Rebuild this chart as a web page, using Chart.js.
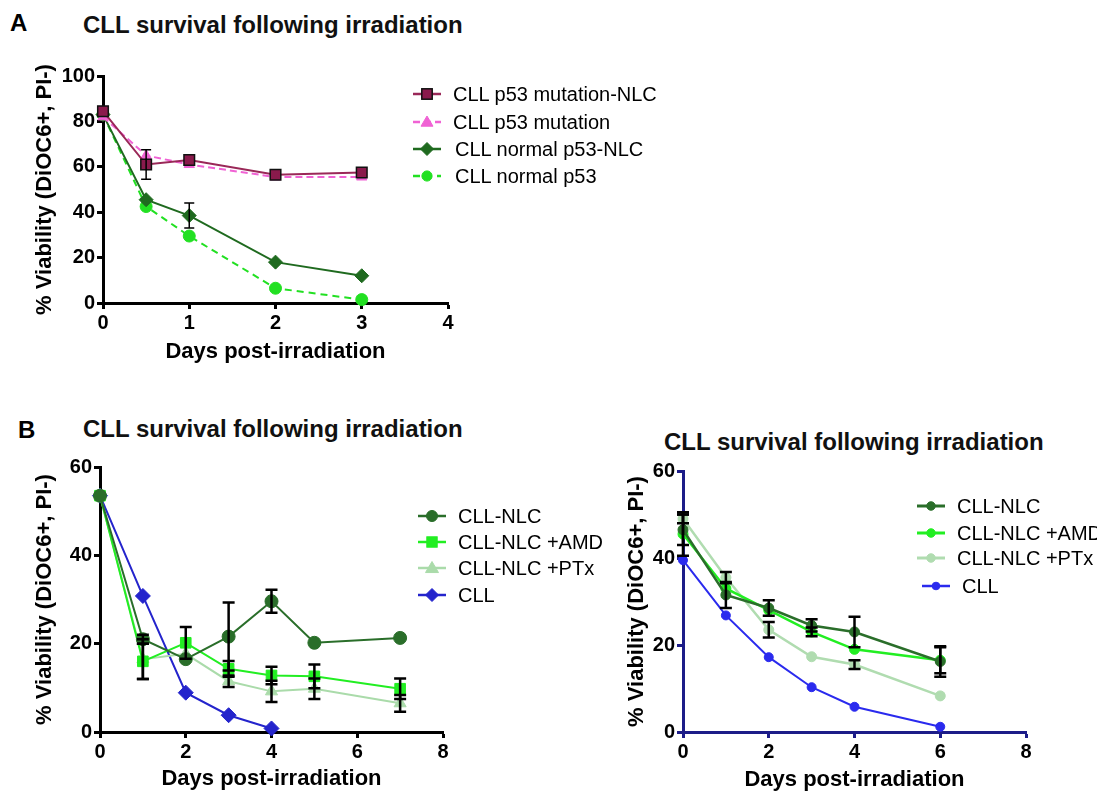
<!DOCTYPE html>
<html lang="en">
<head>
  <meta charset="UTF-8" />
  <title>CLL survival following irradiation</title>
  <script src="https://cdn.jsdelivr.net/npm/chart.js"></script>
  <style>
    html, body {
      margin: 0;
      padding: 0;
      background: #fff;
      font-family: "Liberation Sans", Arial, sans-serif;
    }
    body {
      position: relative;
      width: 1097px;
      height: 791px;
      overflow: hidden;
    }
    .abs { position: absolute; }
    .letra { font-size: 24px; font-weight: bold; line-height: 24px; color: #000; }
    .titulo { font-size: 24px; font-weight: bold; line-height: 24px; color: #111; white-space: nowrap; }
    .leg { font-size: 20px; line-height: 20px; color: #000; white-space: nowrap; display: flex; align-items: center; }
    .leg svg { margin-right: 12px; }
    canvas { position: absolute; }
  </style>
</head>
<body>
  <div class="abs letra" style="left:10px; top:11px;">A</div>
  <div class="abs titulo" style="left:83px; top:13px;">CLL survival following irradiation</div>
  <canvas id="chartA" width="480" height="312" style="left:0; top:60px;"></canvas>
  <div id="legendA"></div>

  <div class="abs letra" style="left:18px; top:418px;">B</div>
  <div class="abs titulo" style="left:83px; top:417px;">CLL survival following irradiation</div>
  <canvas id="chartBL" width="480" height="341" style="left:0; top:450px;"></canvas>
  <div id="legendBL"></div>

  <div class="abs titulo" style="left:664px; top:430px;">CLL survival following irradiation</div>
  <canvas id="chartBR" width="507" height="336" style="left:590px; top:455px;"></canvas>
  <div id="legendBR"></div>

  <script>
    // ---- data ----
    // panel A
    const daysA = [0, 0.5, 1, 2, 3];
    const mutNlcA = [84.5, 61, 63, 56.5, 57.5];
    const mutNlcErrA = [0, 6.5, 0, 0, 0];
    const mutA = [82, 65, 61, 55.5, 55.5];
    const normNlcA = [83, 45.5, 38.5, 18, 12];
    const normNlcErrA = [0, 0, 5.5, 0, 0];
    const normA = [83, 42.5, 29.5, 6.5, 1.5];

    // panel B, left
    const daysBL = [0, 1, 2, 3, 4, 5, 7];
    const nlcBL = [53.5, 21, 16.5, 21.6, 29.6, 20.2, 21.3];
    const nlcErrBL = [0, 1, 0, 7.7, 2.6, 0, 0];
    const amdBL = [53.5, 16, 20.2, 14.3, 12.8, 12.6, 9.8];
    const amdErrBL = [0, 4, 3.6, 1.8, 2, 2.7, 2.3];
    const ptxBL = [53.5, 16.5, 17.7, 11.5, 9.2, 9.8, 6.5];
    const ptxErrBL = [0, 4.5, 0, 1.3, 2.4, 2.3, 1.9];
    const cllDaysBL = [0, 1, 2, 3, 4];
    const cllBL = [53.5, 30.8, 8.9, 3.8, 0.8];

    // panel B, right
    const daysBR = [0, 1, 2, 3, 4, 6];
    const nlcBR = [46.5, 31.5, 28.5, 24.5, 23, 16.2];
    const nlcErrBR = [3.5, 3, 1.8, 1.4, 3.5, 3.5];
    const amdBR = [45.5, 33, 28, 23, 19, 16.5];
    const amdErrBR = [5, 0, 0, 1, 0, 3];
    const ptxBR = [49, 35.5, 23.5, 17.3, 15.5, 8.3];
    const ptxErrBR = [1, 1.3, 1.8, 0, 1, 0];
    const cllBR = [39.5, 26.8, 17.2, 10.3, 5.8, 1.2];

    const labelsA = ["CLL p53 mutation-NLC", "CLL p53 mutation", "CLL normal p53-NLC", "CLL normal p53"];
    const labelsB = ["CLL-NLC", "CLL-NLC +AMD", "CLL-NLC +PTx", "CLL"];

    Chart.defaults.font.family = '"Liberation Sans", Arial, sans-serif';

    function pontos(xs, ys) {
      return xs.map((x, i) => ({ x: x, y: ys[i] }));
    }

    // error bars drawn from dataset.erros through the chart scales
    const barrasErro = {
      id: 'barrasErro',
      afterDatasetsDraw(chart, args, opts) {
        const ctx = chart.ctx;
        const ys = chart.scales.y;
        ctx.save();
        ctx.strokeStyle = '#000';
        ctx.lineWidth = opts.largura || 1.5;
        chart.data.datasets.forEach((ds, i) => {
          if (!ds.erros) return;
          const meta = chart.getDatasetMeta(i);
          ds.erros.forEach((e, j) => {
            if (!e) return;
            const v = ds.data[j].y;
            const px = meta.data[j].x;
            const top = ys.getPixelForValue(v + e);
            const bot = ys.getPixelForValue(v - e);
            const c = opts.tampa || 5;
            ctx.beginPath();
            ctx.moveTo(px, top); ctx.lineTo(px, bot);
            ctx.moveTo(px - c, top); ctx.lineTo(px + c, top);
            ctx.moveTo(px - c, bot); ctx.lineTo(px + c, bot);
            ctx.stroke();
          });
        });
        ctx.restore();
      }
    };

    function eixo(o) {
      return {
        type: 'linear',
        min: o.min,
        max: o.max,
        ticks: { stepSize: o.step, color: '#000', font: { size: 20, weight: 'bold' }, padding: 2, autoSkip: false },
        grid: { drawOnChartArea: false, drawTicks: true, tickLength: 6, color: o.cor, tickColor: o.cor, tickWidth: o.bw },
        border: { color: o.cor, width: o.bw },
        title: { display: true, text: o.titulo, color: '#000', font: { size: 22, weight: 'bold', lineHeight: 1 }, padding: o.pad },
        afterFit: s => {
          if (s.isHorizontal()) s.height = o.tam; else s.width = o.tam;
          s.paddingLeft = s.paddingRight = s.paddingTop = s.paddingBottom = 0;
        }
      };
    }

    function serie(label, xs, ys, st, erros) {
      return {
        label: label,
        data: pontos(xs, ys),
        erros: erros,
        borderColor: st.cor,
        borderWidth: st.lw,
        borderDash: st.dash || [],
        pointStyle: st.forma,
        pointRadius: st.r,
        pointHoverRadius: st.r,
        pointBackgroundColor: st.fundo || st.cor,
        pointBorderColor: st.borda || st.cor,
        pointBorderWidth: st.bw || 1,
        fill: false,
        tension: 0,
        clip: false
      };
    }

    function grafico(id, datasets, pad, xOpt, yOpt, erroOpt) {
      return new Chart(document.getElementById(id).getContext('2d'), {
        type: 'line',
        data: { datasets: datasets },
        options: {
          responsive: false,
          animation: false,
          devicePixelRatio: 1,
          layout: { padding: pad },
          plugins: { legend: { display: false }, tooltip: { enabled: false }, barrasErro: erroOpt },
          scales: { x: eixo(xOpt), y: eixo(yOpt) }
        },
        plugins: [barrasErro]
      });
    }

    // legend icons
    function icone(st) {
      const w = 28, h = 18, cy = 9, cx = 14, r = Math.min(st.r, 6.5);
      let s = `<svg width="${w}" height="${h}" viewBox="0 0 ${w} ${h}">`;
      s += `<line x1="0" y1="${cy}" x2="${w}" y2="${cy}" stroke="${st.cor}" stroke-width="${st.lw + 0.5}"` +
           (st.dash ? ` stroke-dasharray="${st.dash.join(' ')}"` : '') + '/>';
      const f = st.fundo || st.cor, b = st.borda || st.cor, bw = st.bw || 1;
      if (st.forma === 'rect') {
        s += `<rect x="${cx - r * 0.8}" y="${cy - r * 0.8}" width="${r * 1.6}" height="${r * 1.6}" fill="${f}" stroke="${b}" stroke-width="${bw}"/>`;
      } else if (st.forma === 'triangle') {
        s += `<polygon points="${cx},${cy - r} ${cx + r},${cy + r * 0.7} ${cx - r},${cy + r * 0.7}" fill="${f}" stroke="${b}"/>`;
      } else if (st.forma === 'rectRot') {
        s += `<polygon points="${cx},${cy - r} ${cx + r},${cy} ${cx},${cy + r} ${cx - r},${cy}" fill="${f}" stroke="${b}"/>`;
      } else {
        s += `<circle cx="${cx}" cy="${cy}" r="${r * 0.85}" fill="${f}" stroke="${b}"/>`;
      }
      return s + '</svg>';
    }

    function legenda(id, labels, estilos, pos) {
      const el = document.getElementById(id);
      labels.forEach((t, i) => {
        const p = pos[i];
        const d = document.createElement('div');
        d.className = 'abs leg';
        d.style.left = p[0] + 'px';
        d.style.top = (p[1] - 9) + 'px';
        d.innerHTML = icone(estilos[i]) + '<span style="margin-left:' + (p[2] || 0) + 'px">' + t + '</span>';
        el.appendChild(d);
      });
    }

    // ---- styles ----
    const estA = [
      { cor: '#9a2858', fundo: '#8a1a4c', borda: '#111', bw: 1.5, forma: 'rect', r: 7.5, lw: 2 },
      { cor: '#f062d4', dash: [7, 4], forma: 'triangle', r: 6, lw: 2 },
      { cor: '#1f6a1f', forma: 'rectRot', r: 7, lw: 2 },
      { cor: '#22e022', dash: [7, 5], forma: 'circle', r: 6, lw: 2 }
    ];
    const estBL = [
      { cor: '#2a6e2a', forma: 'circle', r: 6.5, lw: 2 },
      { cor: '#22ee22', forma: 'rect', r: 7.5, lw: 2 },
      { cor: '#aadbaa', forma: 'triangle', r: 7, lw: 2 },
      { cor: '#2424cc', forma: 'rectRot', r: 7.5, lw: 2 }
    ];
    const estBR = [
      { cor: '#2a6e2a', forma: 'circle', r: 5, lw: 2.5 },
      { cor: '#22ee22', forma: 'circle', r: 5, lw: 2.5 },
      { cor: '#b0dcb0', forma: 'circle', r: 5, lw: 2.5 },
      { cor: '#2a2aee', forma: 'circle', r: 4.5, lw: 2 }
    ];

    // ---- panel A ----
    grafico('chartA', [
      serie(labelsA[0], daysA, mutNlcA, estA[0], mutNlcErrA),
      serie(labelsA[1], daysA, mutA, estA[1]),
      serie(labelsA[2], daysA, normNlcA, estA[2], normNlcErrA),
      serie(labelsA[3], daysA, normA, estA[3])
    ], { top: 16, right: 32, left: 0, bottom: 0 },
      { min: 0, max: 4, step: 1, cor: '#000', bw: 3, titulo: 'Days post-irradiation', tam: 69, pad: { top: 0, bottom: 9 } },
      { min: 0, max: 100, step: 20, cor: '#000', bw: 3, titulo: '% Viability (DiOC6+, PI-)', tam: 103, pad: { top: 34, bottom: 0 } },
      { largura: 1.5, tampa: 5 });

    // ---- panel B left ----
    grafico('chartBL', [
      serie(labelsB[0], daysBL, nlcBL, estBL[0], nlcErrBL),
      serie(labelsB[1], daysBL, amdBL, estBL[1], amdErrBL),
      serie(labelsB[2], daysBL, ptxBL, estBL[2], ptxErrBL),
      serie(labelsB[3], cllDaysBL, cllBL, estBL[3])
    ], { top: 17, right: 37, left: 0, bottom: 0 },
      { min: 0, max: 8, step: 2, cor: '#000', bw: 3, titulo: 'Days post-irradiation', tam: 59, pad: { top: 0, bottom: 1 } },
      { min: 0, max: 60, step: 20, cor: '#000', bw: 3, titulo: '% Viability (DiOC6+, PI-)', tam: 100, pad: { top: 34, bottom: 0 } },
      { largura: 2.5, tampa: 6 });

    // ---- panel B right ----
    grafico('chartBR', [
      serie(labelsB[0], daysBR, nlcBR, estBR[0], nlcErrBR),
      serie(labelsB[1], daysBR, amdBR, estBR[1], amdErrBR),
      serie(labelsB[2], daysBR, ptxBR, estBR[2], ptxErrBR),
      serie(labelsB[3], daysBR, cllBR, estBR[3])
    ], { top: 16, right: 71, left: 0, bottom: 0 },
      { min: 0, max: 8, step: 2, cor: '#1c1c88', bw: 3, titulo: 'Days post-irradiation', tam: 59, pad: { top: 0, bottom: 0 } },
      { min: 0, max: 60, step: 20, cor: '#1c1c88', bw: 3, titulo: '% Viability (DiOC6+, PI-)', tam: 93, pad: { top: 36, bottom: 0 } },
      { largura: 2.5, tampa: 6 });

    legenda('legendA', labelsA, estA, [[413, 93], [413, 121], [413, 148, 2], [413, 175, 2]]);
    legenda('legendBL', labelsB, estBL, [[418, 515], [418, 541], [418, 567], [418, 594]]);
    legenda('legendBR', labelsB, estBR, [[917, 505], [917, 532], [917, 557], [922, 585]]);
  </script>
</body>
</html>
